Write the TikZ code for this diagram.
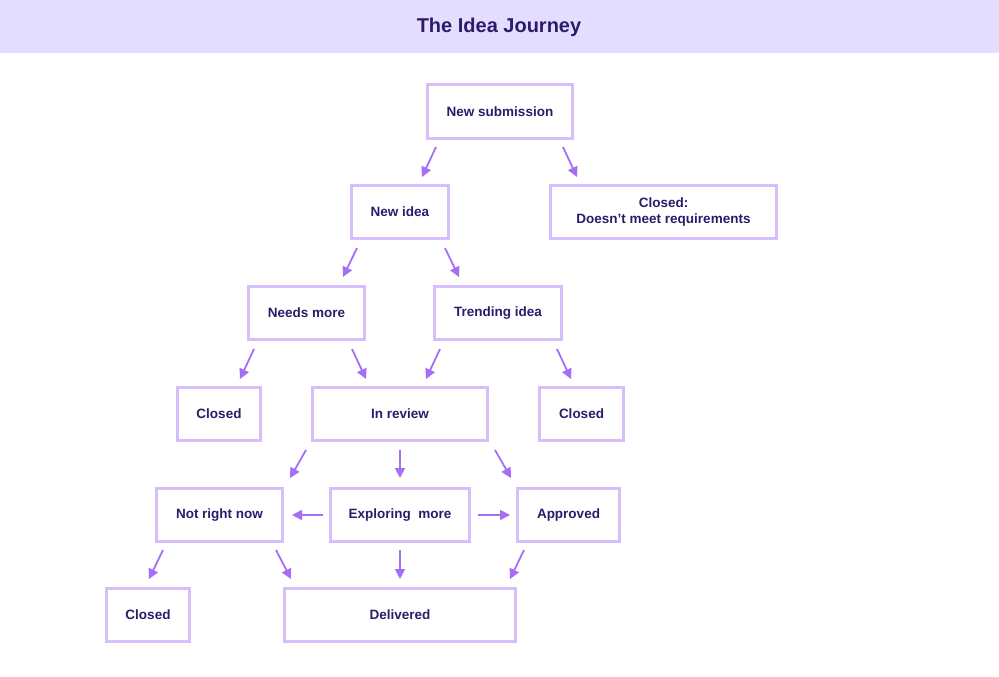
\documentclass[tikz,border=0pt]{standalone}
\usepackage{fontspec}
\setmainfont{Liberation Sans}
\usetikzlibrary{arrows.meta,calc}
\definecolor{hdr}{HTML}{E3DEFF}
\definecolor{boxc}{HTML}{D6BEFB}
\definecolor{arrc}{HTML}{A56EF5}
\definecolor{txt}{HTML}{2D1B69}
\tikzset{
  stbox/.style={draw=boxc, line width=3pt, rectangle, inner sep=0pt, align=center,
    text=txt, font=\fontsize{13.5}{15.5}\selectfont\bfseries},
  arr/.style={draw=arrc, line width=1.8pt, -{Triangle[length=10pt,width=10pt]}},
}
\begin{document}
\begin{tikzpicture}[x=1pt,y=-1pt]
\useasboundingbox (0,0) rectangle (999,677);
\fill[white] (0,0) rectangle (999,677);
\fill[hdr] (0,0) rectangle (999,53);
\node[text=txt, font=\fontsize{20}{24}\selectfont\bfseries] (title) at (499,27.5) {The Idea Journey};

\node[stbox, minimum width=145pt, minimum height=54pt] (ns) at (500,111.5) {New submission};
\node[stbox, minimum width=97pt, minimum height=53pt] (ni) at (400,212) {New idea};
\node[stbox, minimum width=226pt, minimum height=53pt] (cr) at (663.5,212) {Closed:\\Doesn’t meet requirements};
\node[stbox, minimum width=116pt, minimum height=53pt] (nm) at (306.5,313) {Needs more};
\node[stbox, minimum width=127pt, minimum height=53pt] (ti) at (498,313) {Trending idea};
\node[stbox, minimum width=83pt, minimum height=53pt] (c1) at (219,414) {Closed};
\node[stbox, minimum width=175pt, minimum height=53pt] (ir) at (400,414) {In review};
\node[stbox, minimum width=84pt, minimum height=53pt] (c2) at (581.5,414) {Closed};
\node[stbox, minimum width=126pt, minimum height=53pt] (nr) at (219.5,515) {Not right now};
\node[stbox, minimum width=139pt, minimum height=53pt] (ex) at (400,515) {Exploring\ \ more};
\node[stbox, minimum width=102pt, minimum height=53pt] (ap) at (568.5,515) {Approved};
\node[stbox, minimum width=83pt, minimum height=53pt] (c3) at (148,615) {Closed};
\node[stbox, minimum width=231pt, minimum height=53pt] (dl) at (400,615) {Delivered};

% arrows: offsets in pt from anchors (negative y = down)
\draw[arr] ([shift={(-64pt,-7pt)}]ns.south) -- ([shift={(22pt,7pt)}]ni.north);
\draw[arr] ([shift={(63pt,-7pt)}]ns.south) -- ([shift={(-86.5pt,7pt)}]cr.north);
\draw[arr] ([shift={(-43pt,-8pt)}]ni.south) -- ([shift={(36.5pt,8pt)}]nm.north);
\draw[arr] ([shift={(45pt,-8pt)}]ni.south) -- ([shift={(-39pt,8pt)}]ti.north);
\draw[arr] ([shift={(-52.5pt,-8pt)}]nm.south) -- ([shift={(21pt,7pt)}]c1.north);
\draw[arr] ([shift={(45.5pt,-8pt)}]nm.south) -- ([shift={(-34pt,7pt)}]ir.north);
\draw[arr] ([shift={(-58pt,-8pt)}]ti.south) -- ([shift={(26pt,7pt)}]ir.north);
\draw[arr] ([shift={(59pt,-8pt)}]ti.south) -- ([shift={(-10.5pt,7pt)}]c2.north);
\draw[arr] ([shift={(-94pt,-8pt)}]ir.south) -- ([shift={(70.5pt,9pt)}]nr.north);
\draw[arr] ([shift={(0pt,-8pt)}]ir.south) -- ([shift={(0pt,9pt)}]ex.north);
\draw[arr] ([shift={(95pt,-8pt)}]ir.south) -- ([shift={(-57.5pt,9pt)}]ap.north);
\draw[arr] ([shift={(-6pt,0pt)}]ex.west) -- ([shift={(8pt,0pt)}]nr.east);
\draw[arr] ([shift={(7pt,0pt)}]ex.east) -- ([shift={(-6pt,0pt)}]ap.west);
\draw[arr] ([shift={(-56.5pt,-7pt)}]nr.south) -- ([shift={(1pt,8pt)}]c3.north);
\draw[arr] ([shift={(56.5pt,-7pt)}]nr.south) -- ([shift={(-109pt,8pt)}]dl.north);
\draw[arr] ([shift={(0pt,-7pt)}]ex.south) -- ([shift={(0pt,8pt)}]dl.north);
\draw[arr] ([shift={(-44.5pt,-7pt)}]ap.south) -- ([shift={(110pt,8pt)}]dl.north);
\end{tikzpicture}
\end{document}
